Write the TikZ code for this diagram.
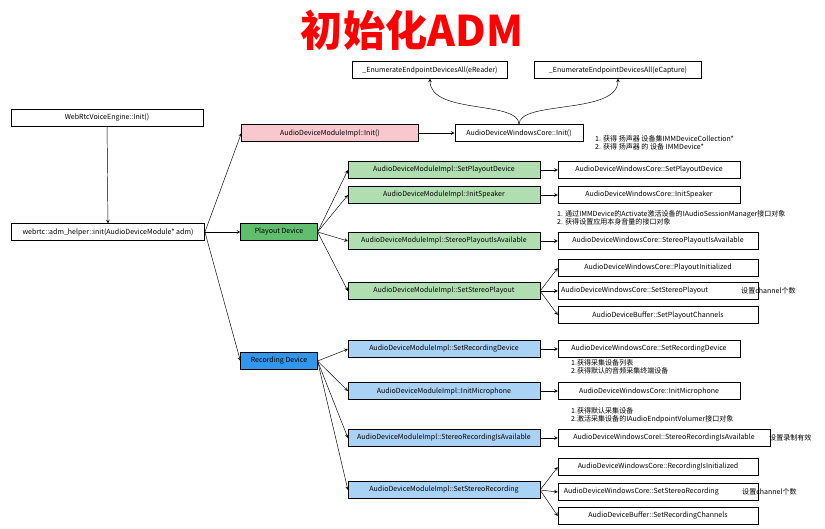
\documentclass[tikz,border=0pt]{standalone}
\usepackage{fontspec}
\setmainfont{Noto Sans CJK SC}
\usetikzlibrary{arrows}
\definecolor{pinkfill}{RGB}{248,200,206}
\definecolor{greenfill}{RGB}{176,222,176}
\definecolor{darkgreen}{RGB}{96,190,110}
\definecolor{bluefill}{RGB}{170,210,245}
\definecolor{darkblue}{RGB}{50,150,235}
\tikzstyle{std} = [rectangle, minimum height=0.5cm, text centered, align=center, draw=black, font=\fontsize{6}{6.5}\selectfont, inner sep=1pt]
\tikzstyle{note} = [anchor=west, align=left, font=\fontsize{6}{7}\selectfont, inner sep=0pt]
\tikzstyle{arrow} = [->,>=stealth]
\begin{document}
\begin{tikzpicture}[x=0.03cm, y=-0.03cm]
    \useasboundingbox (0,0) rectangle (825,528);
    \node (title) at (412,30) [text=red, font=\fontsize{36}{38}\selectfont\bfseries] {初始化ADM};

    \node (reader)  at (430,70)  [std, minimum width=4.65cm] {\_EnumerateEndpointDevicesAll(eReader)};
    \node (capture) at (618,70)  [std, minimum width=5cm] {\_EnumerateEndpointDevicesAll(eCapture)};
    \node (voice)   at (107,118) [std, minimum width=5.75cm] {WebRtcVoiceEngine::Init()};
    \node (helper)  at (108,232) [std, minimum width=5.8cm] {webrtc::adm\_helper::init(AudioDeviceModule* adm)};
    \node (init)    at (330,133) [std, minimum width=5.3cm, fill=pinkfill] {AudioDeviceModuleImpl::Init()};
    \node (wininit) at (519,133) [std, minimum width=3.85cm] {AudioDeviceWindowsCore::Init()};
    \node (playout) at (279,232) [std, minimum width=2.3cm, fill=darkgreen] {Playout Device};
    \node (record)  at (279,361) [std, minimum width=2.3cm, fill=darkblue] {Recording Device};

    % playout side
    \node (setpd)   at (444,170) [std, minimum width=5.75cm, fill=greenfill] {AudioDeviceModuleImpl::SetPlayoutDevice};
    \node (initspk) at (444,195) [std, minimum width=5.75cm, fill=greenfill] {AudioDeviceModuleImpl::InitSpeaker};
    \node (stpa)    at (444,241) [std, minimum width=5.75cm, fill=greenfill] {AudioDeviceModuleImpl::StereoPlayoutIsAvailable};
    \node (setsp)   at (444,291) [std, minimum width=5.75cm, fill=greenfill] {AudioDeviceModuleImpl::SetStereoPlayout};
    \node (wsetpd)  at (649,170) [std, minimum width=5.45cm] {AudioDeviceWindowsCore::SetPlayoutDevice};
    \node (wspk)    at (649,195) [std, minimum width=5.45cm] {AudioDeviceWindowsCore::InitSpeaker};
    \node (wstpa)   at (658,241) [std, minimum width=6cm] {AudioDeviceWindowsCore::StereoPlayoutIsAvailable};
    \node (wpinit)  at (658,268) [std, minimum width=6cm] {AudioDeviceWindowsCore::PlayoutInitialized};
    \node (wsetsp)  at (658,291) [std, minimum width=6cm] {AudioDeviceWindowsCore::SetStereoPlayout\hspace{1.4cm}};
    \node (bufpc)   at (658,315) [std, minimum width=6cm] {AudioDeviceBuffer::SetPlayoutChannels};

    % recording side
    \node (setrd)   at (444,349) [std, minimum width=5.75cm, fill=bluefill] {AudioDeviceModuleImpl::SetRecordingDevice};
    \node (initmic) at (444,391) [std, minimum width=5.75cm, fill=bluefill] {AudioDeviceModuleImpl::InitMicrophone};
    \node (stra)    at (444,438) [std, minimum width=5.75cm, fill=bluefill] {AudioDeviceModuleImpl::StereoRecordingIsAvailable};
    \node (setsr)   at (444,490) [std, minimum width=5.75cm, fill=bluefill] {AudioDeviceModuleImpl::SetStereoRecording};
    \node (wsetrd)  at (649,349) [std, minimum width=5.45cm] {AudioDeviceWindowsCore::SetRecordingDevice};
    \node (wmic)    at (649,391) [std, minimum width=5.45cm] {AudioDeviceWindowsCore::InitMicrophone};
    \node (wstra)   at (664,438) [std, minimum width=6.35cm] {AudioDeviceWindowsCoreI::StereoRecordingIsAvailable};
    \node (wrinit)  at (658,467) [std, minimum width=6cm] {AudioDeviceWindowsCore::RecordingIsInitialized};
    \node (wsetsr)  at (658,492) [std, minimum width=6cm] {AudioDeviceWindowsCore::SetStereoRecording\hspace{1cm}};
    \node (bufrc)   at (658,516) [std, minimum width=6cm] {AudioDeviceBuffer::SetRecordingChannels};

    % notes
    \node (n1) at (595,143) [note] {1. 获得 扬声器 设备集IMMDeviceCollection*\\2. 获得 扬声器 的 设备 IMMDevice*};
    \node (n2) at (557,218) [note] {1. 通过IMMDevice的Activate激活设备的IAudioSessionManager接口对象\\2. 获得设置应用本身音量的接口对象};
    \node (n3) at (741,291) [note] {设置channel个数};
    \node (n4) at (571,367) [note] {1.获得采集设备列表\\2.获得默认的音频采集终端设备};
    \node (n5) at (571,415) [note] {1.获得默认采集设备\\2.激活采集设备的IAudioEndpointVolumer接口对象};
    \node (n6) at (769,438) [note] {设置录制有效};
    \node (n7) at (742,492) [note] {设置channel个数};

    \draw [arrow] (voice) -- (helper);
    \draw [arrow] (helper.east) -- (init.west);
    \draw [arrow] (helper.east) -- (playout.west);
    \draw [arrow] (helper.east) -- (record.west);
    \draw [arrow] (init) -- (wininit);
    \draw [arrow] (wininit.north) .. controls (519,100) and (430,115) .. (reader.south);
    \draw [arrow] (wininit.north) .. controls (519,100) and (618,115) .. (capture.south);
    \foreach \n in {setpd, initspk, stpa, setsp}
      \draw [arrow] (playout.east) -- (\n.west);
    \foreach \n in {setrd, initmic, stra, setsr}
      \draw [arrow] (record.east) -- (\n.west);
    \draw [arrow] (setpd) -- (wsetpd);
    \draw [arrow] (initspk) -- (wspk);
    \draw [arrow] (stpa) -- (wstpa);
    \draw [arrow] (setrd) -- (wsetrd);
    \draw [arrow] (initmic) -- (wmic);
    \draw [arrow] (stra) -- (wstra);
    \foreach \n in {wpinit, wsetsp, bufpc}
      \draw [arrow] (setsp.east) -- (\n.west);
    \foreach \n in {wrinit, wsetsr, bufrc}
      \draw [arrow] (setsr.east) -- (\n.west);
  \end{tikzpicture}
\end{document}
